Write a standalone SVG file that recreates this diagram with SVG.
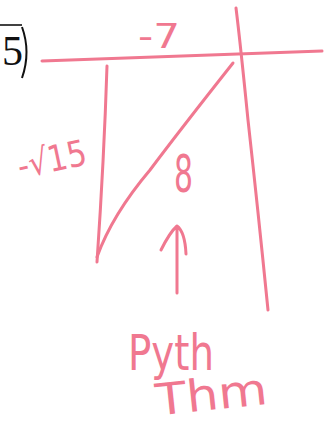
<svg xmlns="http://www.w3.org/2000/svg" width="328" height="428" viewBox="0 0 328 428">
<style>
.ink{fill:none;stroke:#f07890;stroke-width:3;stroke-linecap:round;stroke-linejoin:round}
.hw{fill:#f07890;font-family:"DejaVu Sans","Noto Sans",sans-serif;font-weight:normal}
.prt{fill:#111;font-family:"Liberation Serif",serif}
</style>
<rect width="328" height="428" fill="#fff"/>
<g id="problem-number">
<line x1="0" y1="25" x2="22" y2="25" stroke="#111" stroke-width="1.6"/>
<text class="prt" x="2" y="65" font-size="42">5</text>
<path d="M22 27 Q31 52 22 78" fill="none" stroke="#111" stroke-width="2"/>
</g>
<g id="axes">
<path class="ink" d="M42 61 Q180 56 322 51"/>
<path class="ink" d="M236 8 Q240 40 248 120 Q258 210 268 310"/>
</g>
<g id="triangle">
<path class="ink" d="M107 66 Q104 160 97 262"/>
<path class="ink" d="M233 63 Q180 130 150 170 Q112 215 97 257"/>
</g>
<g id="labels">
<text class="hw" x="138" y="48" font-size="34" textLength="42" lengthAdjust="spacingAndGlyphs">-7</text>
<text class="hw" x="16" y="172" font-size="36" textLength="70" lengthAdjust="spacingAndGlyphs" transform="rotate(-12 50 155)">-√15</text>
<text class="hw" x="174" y="192" font-size="52" textLength="19" lengthAdjust="spacingAndGlyphs">8</text>
<path class="ink" stroke-width="4" d="M161 250 Q170 232 177 226 Q185 232 186 254 M177 228 L177 293"/>
<text class="hw" x="128" y="370" font-size="50" textLength="86" lengthAdjust="spacingAndGlyphs">Pyth</text>
<text class="hw" x="156" y="410" font-size="44" textLength="112" lengthAdjust="spacingAndGlyphs" transform="rotate(-6 210 400)">Thm</text>
</g>
</svg>
